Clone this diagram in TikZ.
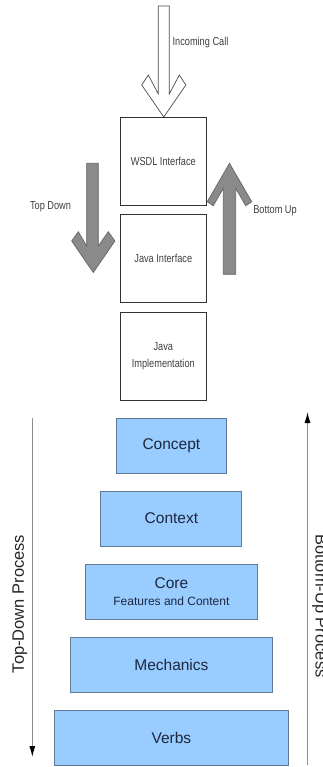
\documentclass[tikz,border=0pt]{standalone}
\usepackage{fontspec}
\setmainfont{Liberation Sans}
\newfontfamily\narrowfont[FakeStretch=0.8]{Liberation Sans}
\usetikzlibrary{arrows.meta}
\definecolor{blockgray}{HTML}{8A8A8A}
\definecolor{blockedge}{HTML}{666666}
\definecolor{layerfill}{HTML}{99CCFF}
\definecolor{layeredge}{HTML}{5F7A96}
\definecolor{layertext}{HTML}{1C2740}
\definecolor{processline}{HTML}{8C8C8C}
\tikzset{
  stackbox/.style={draw=black!80, line width=0.8pt, fill=white, inner sep=0pt,
    minimum width=85.3pt, minimum height=88.7pt, align=center,
    font=\narrowfont\fontsize{11.5}{17}\selectfont, text=black!75},
  sidelabel/.style={inner sep=0pt, font=\narrowfont\fontsize{11.5}{14}\selectfont, text=black!75},
  layer/.style={draw=layeredge, line width=0.9pt, fill=layerfill, inner sep=0pt,
    minimum height=55pt, align=center, text=layertext,
    font=\fontsize{15.5}{17}\selectfont},
  hollowarrow/.style={draw=black!70, line width=0.7pt, fill=white},
  grayarrow/.style={draw=blockedge, line width=0.7pt, fill=blockgray},
  processarrow/.style={draw=processline, line width=1pt,
    -{Latex[length=11pt,width=6pt,fill=black,color=black]}},
  processlabel/.style={inner sep=0pt, text=black!85, font=\fontsize{16.5}{18}\selectfont}
}
\begin{document}
\begin{tikzpicture}[x=1pt,y=-1pt]
\useasboundingbox (0,0) rectangle (323,767);
\fill[white] (0,0) rectangle (323,767);

% ---- service stack ----
\node[stackbox] (wsdl) at (163.3,161.4) {WSDL Interface};
\node[stackbox] (jif)  at (163.3,258.5) {Java Interface};
\node[stackbox] (jimp) at (163.3,356.5) {Java\\Implementation};

% incoming call (hollow block arrow)
\draw[hollowarrow] (158.3,6) -- (158.3,94) -- (148.3,75) -- (141.7,85)
  -- (163.8,117) -- (185.9,85) -- (179.3,75) -- (169.3,94) -- (169.3,6) -- cycle;
\node[sidelabel] (incoming) at (200.5,43) {Incoming Call};

% top-down block arrow
\draw[grayarrow] (86.7,163.3) -- (86.7,246) -- (78.3,231.7) -- (71.7,241)
  -- (93.3,272.5) -- (114.9,241) -- (108.3,231.7) -- (98.3,246) -- (98.3,163.3) -- cycle;
\node[sidelabel] (topdown) at (50.5,207) {Top Down};

% bottom-up block arrow
\draw[grayarrow] (223.3,274.3) -- (223.3,188.3) -- (213.3,205.7) -- (207.3,201.7)
  -- (229.5,163.3) -- (251.7,201.7) -- (245.7,205.7) -- (235.7,188.3) -- (235.7,274.3) -- cycle;
\node[sidelabel] (bottomup) at (275,211) {Bottom Up};

% ---- layer pyramid ----
\node[layer, minimum width=109.3pt] (concept)   at (171.4,445.5) {Concept};
\node[layer, minimum width=141pt]   (context)   at (171.4,518.5) {Context};
\node[layer, minimum width=172pt]   (core)      at (171.4,591.5)
  {Core\\{\fontsize{12}{14}\selectfont Features and Content}};
\node[layer, minimum width=202.7pt] (mechanics) at (171.4,664.5) {Mechanics};
\node[layer, minimum width=234.7pt] (verbs)     at (171.4,737.8) {Verbs};

% process direction lines
\coordinate (tdstart) at (32.3,418);
\coordinate (tdend)   at (32.3,757);
\coordinate (bustart) at (307.5,765);
\coordinate (buend)   at (307.5,412);
\draw[processarrow] (tdstart) -- (tdend);
\draw[processarrow] (bustart) -- (buend);
\node[processlabel, rotate=90]  (tdlabel) at (19.8,604) {Top-Down Process};
\node[processlabel, rotate=-90] (bulabel) at (319.5,606) {Bottom-Up Process};
\end{tikzpicture}
\end{document}
